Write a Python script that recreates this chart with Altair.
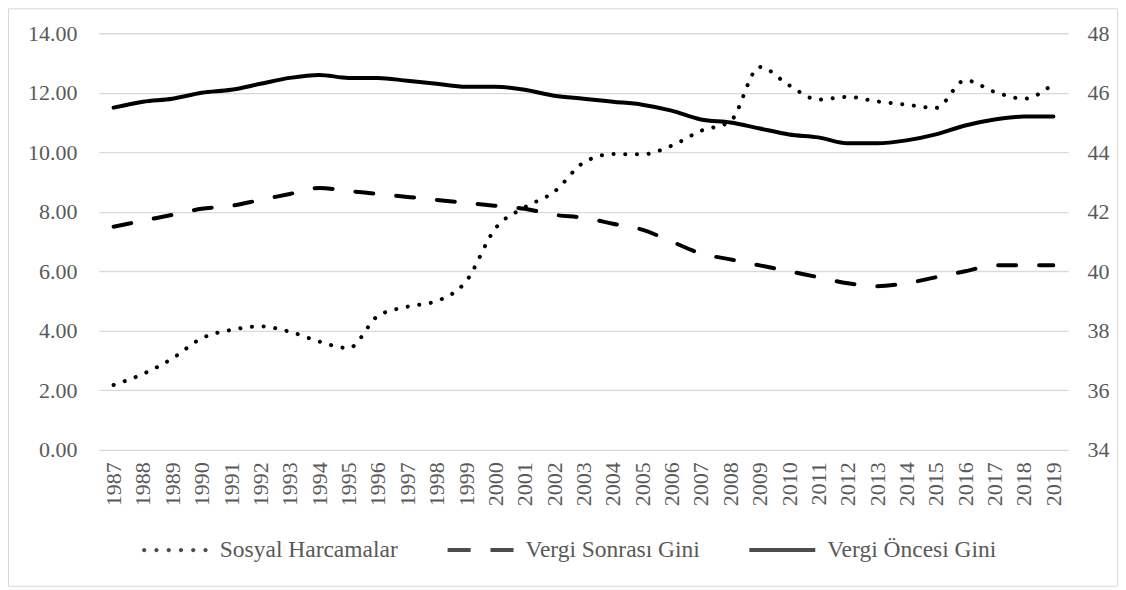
import altair as alt
import pandas as pd

years = [str(y) for y in range(1987, 2020)]
sosyal = [2.18, 2.55, 3.07, 3.75, 4.03, 4.15, 3.97, 3.64, 3.42, 4.50, 4.81, 5.00, 5.66,
          7.44, 8.15, 8.67, 9.65, 9.94, 9.93, 10.22, 10.72, 11.04, 12.87, 12.25, 11.77,
          11.86, 11.71, 11.60, 11.49, 12.42, 12.03, 11.80, 12.30]
sonrasi = [41.5, 41.7, 41.9, 42.1, 42.2, 42.4, 42.6, 42.8, 42.7, 42.6, 42.5, 42.4, 42.3,
           42.2, 42.1, 41.9, 41.8, 41.6, 41.4, 41.0, 40.6, 40.4, 40.2, 40.0, 39.8,
           39.6, 39.5, 39.6, 39.8, 40.0, 40.2, 40.2, 40.2]
oncesi = [45.5, 45.7, 45.8, 46.0, 46.1, 46.3, 46.5, 46.6, 46.5, 46.5, 46.4, 46.3, 46.2,
          46.2, 46.1, 45.9, 45.8, 45.7, 45.6, 45.4, 45.1, 45.0, 44.8, 44.6, 44.5,
          44.3, 44.3, 44.4, 44.6, 44.9, 45.1, 45.2, 45.2]
names = ["Sosyal Harcamalar", "Vergi Sonrası Gini", "Vergi Öncesi Gini"]
left_ticks = [0, 2, 4, 6, 8, 10, 12, 14]
right_ticks = [34, 36, 38, 40, 42, 44, 46, 48]

FONT = "Liberation Serif"
GRAY = "#595959"
GRID = "#d9d9d9"

# legend sample symbols (unit-square SVG paths)
def circle(cx, r):
    return f"M{cx - r:.3f},0a{r},{r} 0 1,0 {2 * r},0a{r},{r} 0 1,0 {-2 * r},0"

dot_path = "".join(circle(c, 0.065) for c in [-0.93, -0.558, -0.186, 0.186, 0.558, 0.93])
dash_path = "M-1,-0.06H-0.3V0.06H-1Z M0.3,-0.06H1V0.06H0.3Z"
solid_path = "M-1,-0.06H1V0.06H-1Z"

df_s = pd.DataFrame({"year": years, "value": sosyal, "series": names[0]})
df_a = pd.DataFrame({"year": years, "value": sonrasi, "series": names[1]})
df_b = pd.DataFrame({"year": years, "value": oncesi, "series": names[2]})

x_enc = alt.X("year:O", scale=alt.Scale(padding=0.5),
              axis=alt.Axis(title=None, labelAngle=-90, labelFont=FONT, labelFontSize=22,
                            labelColor=GRAY, ticks=False, domain=False, labelPadding=12,
                            grid=False))

y_left = alt.Y("value:Q", scale=alt.Scale(domain=[0, 14]),
               axis=alt.Axis(title=None, values=left_ticks, format=".2f", orient="left",
                             labelFont=FONT, labelFontSize=22, labelColor=GRAY, ticks=False,
                             domain=False, labelPadding=22, grid=True, gridColor=GRID,
                             gridWidth=1.3))
y_right = alt.Y("value:Q", scale=alt.Scale(domain=[34, 48]),
                axis=alt.Axis(title=None, values=right_ticks, format="d", orient="right",
                              labelFont=FONT, labelFontSize=22, labelColor=GRAY, ticks=False,
                              domain=False, labelPadding=19, grid=False))

line_kw = dict(color="black", strokeWidth=4, strokeCap="round", interpolate="monotone")

line_s = alt.Chart(df_s).mark_line(strokeDash=[0.1, 11.6], **line_kw).encode(x=x_enc, y=y_left)
line_a = alt.Chart(df_a).mark_line(strokeDash=[18, 23], **line_kw).encode(x=x_enc, y=y_right)
line_b = alt.Chart(df_b).mark_line(**line_kw).encode(x=x_enc, y=y_right)
right = alt.layer(line_a, line_b)

# carrier layer for the legend only: its points fall outside the clipped plot area
pts = alt.Chart(df_s).mark_point(filled=True, color="black", clip=True).encode(
    x=x_enc,
    y=alt.Y("value:Q", scale=alt.Scale(domain=[100, 200]), axis=None),
    shape=alt.Shape("series:N",
                    scale=alt.Scale(domain=names, range=[dot_path, dash_path, solid_path]),
                    legend=alt.Legend(title=None, orient="none", legendX=43, legendY=484,
                                      direction="horizontal", symbolSize=4356,
                                      symbolFillColor="black", symbolStrokeWidth=0,
                                      labelFont=FONT, labelFontSize=23.5, labelLimit=400,
                                      labelColor=GRAY, labelOffset=12, columnPadding=49,
                                      padding=0)),
)

frame = alt.Chart(pd.DataFrame({"k": [0]})).mark_rect(
    fillOpacity=0, stroke=GRID, strokeWidth=1
).encode(
    x=alt.value(-90.5), x2=alt.value(1019.5), y=alt.value(-24.5), y2=alt.value(553.5)
)

chart = alt.layer(line_s, right, pts, frame).resolve_scale(y="independent").properties(
    width=970, height=417, padding=0
).configure(font=FONT).configure_legend(labelFont=FONT).configure_view(strokeWidth=0)

chart.save("out.html", embed_options={"renderer": "svg", "actions": False})
